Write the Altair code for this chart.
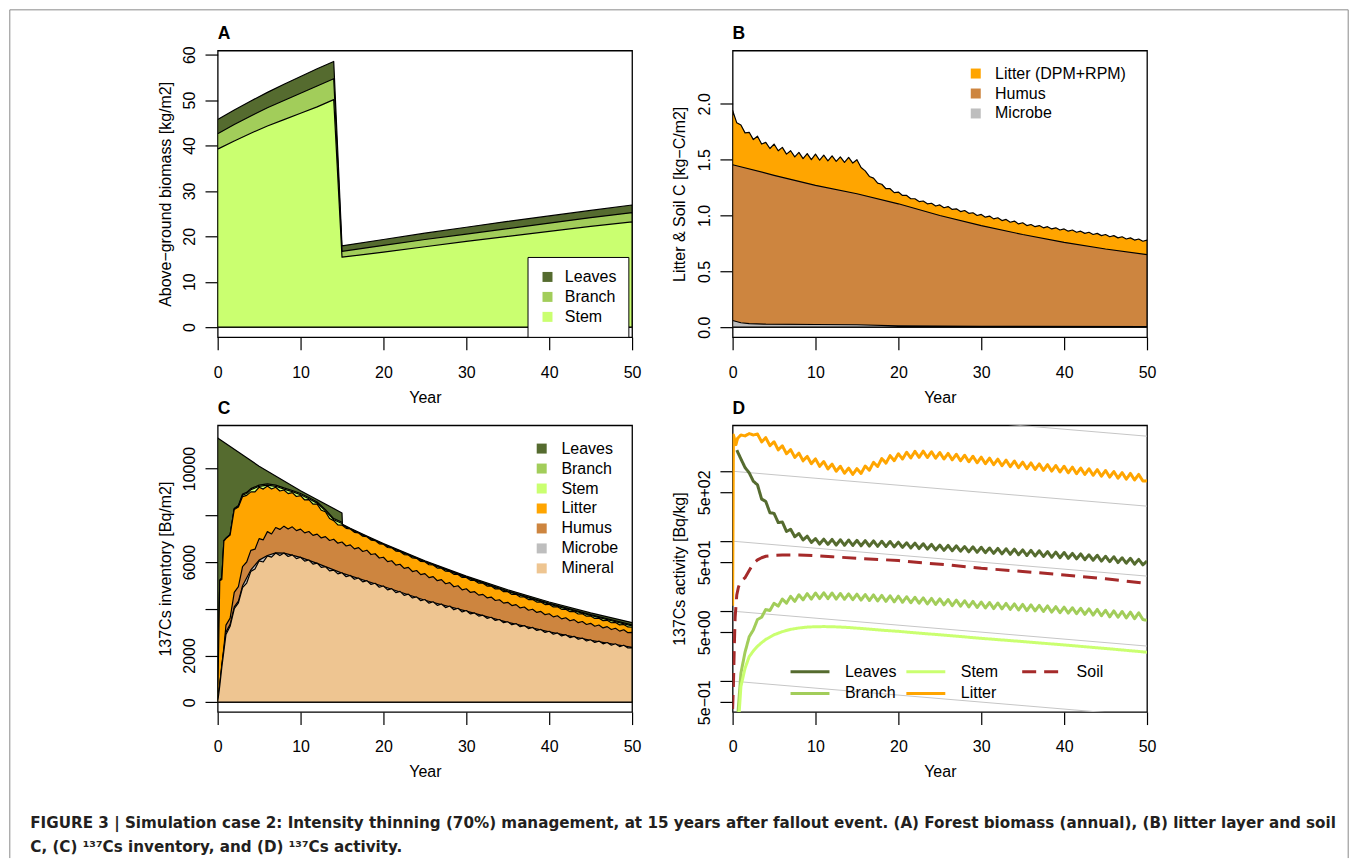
import altair as alt
import pandas as pd

FONT = "Liberation Sans"
CAP_FONT = "DejaVu Sans"
W, H = 415, 287

C_LEAVES = "#556B2F"
C_BRANCH = "#A2CD5A"
C_STEM = "#CAFF70"
C_LITTER = "#FFA500"
C_HUMUS = "#CD853F"
C_MICROBE = "#BEBEBE"
C_MINERAL = "#EEC591"
C_SOIL = "#A52A2A"
C_REF = "#c6c6c6"

x_ticks = [0, 10, 20, 30, 40, 50]

# ---------------- Panel A : above-ground biomass (stacked tops) ----------------
a_years = [0, 2, 4, 6, 8, 10, 12, 14, 15, 20, 25, 30, 35, 40, 45, 50]
a_stem_top = [39.2, 41.0, 42.7, 44.3, 45.7, 47.1, 48.5, 50.1, 15.4, 16.5, 17.7, 18.9, 20.0, 21.1, 22.2, 23.2]
a_branch_top = [42.6, 44.6, 46.5, 48.3, 49.9, 51.5, 53.1, 54.7, 16.7, 18.0, 19.3, 20.5, 21.7, 22.9, 24.1, 25.2]
a_leaves_top = [45.7, 47.8, 49.8, 51.7, 53.5, 55.2, 56.9, 58.5, 17.9, 19.3, 20.7, 22.0, 23.3, 24.5, 25.7, 26.9]
a_ticks = [0, 10, 20, 30, 40, 50, 60]

# ---------------- Panel B : litter layer and soil C ----------------
b_lit_years = [0.5 * i for i in range(101)]
b_litter_top = [
    1.94, 1.83, 1.81, 1.74, 1.745, 1.68, 1.71, 1.64, 1.655, 1.60,
    1.64, 1.58, 1.61, 1.55, 1.58, 1.525, 1.565, 1.51, 1.555, 1.50,
    1.55, 1.495, 1.54, 1.49, 1.535, 1.485, 1.525, 1.475, 1.52, 1.47,
    1.50, 1.43, 1.40, 1.35, 1.335, 1.29, 1.28, 1.24, 1.24, 1.205,
    1.21, 1.18, 1.18, 1.15, 1.15, 1.125, 1.13, 1.105, 1.11, 1.085,
    1.095, 1.07, 1.08, 1.055, 1.06, 1.035, 1.045, 1.02, 1.025, 1.0,
    1.01, 0.985, 0.995, 0.97, 0.98, 0.955, 0.965, 0.94, 0.95, 0.925,
    0.935, 0.91, 0.92, 0.90, 0.91, 0.89, 0.90, 0.88, 0.89, 0.87,
    0.88, 0.86, 0.87, 0.85, 0.86, 0.84, 0.85, 0.83, 0.84, 0.82,
    0.83, 0.81, 0.82, 0.80, 0.81, 0.79, 0.80, 0.78, 0.79, 0.77,
    0.78,
]
b_hum_years = [0, 5, 10, 15, 20, 25, 30, 35, 40, 45, 50]
b_humus_top = [1.455, 1.36, 1.27, 1.195, 1.105, 1.0, 0.91, 0.83, 0.76, 0.70, 0.65]
b_mic_years = [0, 1, 2, 4, 10, 15, 20, 30, 50]
b_microbe_top = [0.06, 0.04, 0.032, 0.027, 0.024, 0.022, 0.012, 0.008, 0.006]
b_ticks = [0, 0.5, 1.0, 1.5, 2.0]

# ---------------- Panel C : 137Cs inventory (stacked tops) ----------------
c_years = [0, 0.25, 0.5, 0.75] + [1 + 0.5 * i for i in range(99)]
c_mineral_top = [
    0, 700, 1500, 2200,
    2900, 3250, 4000, 4250, 4900, 5100, 5600, 5700, 6050, 6000,
    6260, 6210, 6385, 6275, 6385, 6235, 6305, 6145, 6205, 6035,
    6085, 5910, 5955, 5770, 5805, 5620, 5655, 5490, 5540, 5370,
    5425, 5260, 5315, 5150, 5205, 5040, 5090, 4920, 4975, 4807,
    4860, 4691, 4745, 4575, 4625, 4459, 4510, 4343, 4395, 4238,
    4300, 4144, 4205, 4050, 4115, 3956, 4020, 3862, 3925, 3778,
    3820, 3684, 3725, 3590, 3635, 3496, 3540, 3402, 3445, 3314,
    3365, 3232, 3280, 3150, 3200, 3068, 3115, 2986, 3035, 2909,
    2965, 2837, 2890, 2765, 2820, 2693, 2745, 2621, 2675, 2556,
    2615, 2497, 2555, 2438, 2500, 2379, 2440, 2320, 2335,
]
c_humus_top = [
    0, 750, 1600, 2350,
    3300, 3600, 4700, 4950, 5800, 6000, 6500, 6550, 7000, 6950,
    7300, 7200, 7475, 7395, 7535, 7410, 7505, 7345, 7405, 7245,
    7305, 7140, 7195, 7030, 7085, 6920, 6975, 6805, 6855, 6685,
    6735, 6565, 6615, 6450, 6505, 6320, 6355, 6170, 6205, 6020,
    6055, 5870, 5905, 5727, 5770, 5592, 5635, 5460, 5505, 5330,
    5375, 5200, 5245, 5070, 5115, 4940, 4985, 4810, 4855, 4697,
    4730, 4582, 4615, 4467, 4500, 4352, 4385, 4240, 4275, 4135,
    4175, 4035, 4075, 3937, 3980, 3842, 3885, 3745, 3785, 3652,
    3700, 3567, 3615, 3485, 3535, 3405, 3455, 3325, 3375, 3250,
    3305, 3180, 3235, 3110, 3165, 3042, 3100, 2977, 2990,
]
c_litter_top = [
    0, 5200, 5250, 6900,
    7000, 7150, 8250, 8350, 8800, 8850, 9000, 9000, 9200, 9120,
    9250, 9125, 9200, 9040, 9080, 8925, 8970, 8805, 8840, 8655,
    8670, 8475, 8480, 8215, 8150, 7860, 7770, 7590, 7580, 7440,
    7414, 7270, 7245, 7102, 7080, 6939, 6918, 6779, 6760, 6622,
    6604, 6468, 6453, 6318, 6304, 6171, 6158, 6025, 6013, 5882,
    5872, 5742, 5733, 5605, 5598, 5472, 5466, 5341, 5336, 5214,
    5212, 5091, 5090, 4970, 4969, 4850, 4852, 4732, 4731, 4614,
    4617, 4502, 4506, 4392, 4398, 4285, 4292, 4180, 4188, 4076,
    4085, 3974, 3984, 3874, 3885, 3776, 3788, 3680, 3693, 3586,
    3598, 3492, 3505, 3400, 3414, 3310, 3325, 3222, 3208,
]
c_mic_years = [0, 0.25, 0.5, 0.75, 1, 1.5, 2, 2.5, 3, 4, 5, 6, 7, 8, 10, 12, 15, 20, 25, 30, 35, 40, 45, 50]
c_microbe_top = [0, 740, 1560, 2290, 3000, 3330, 4080, 4330, 4980, 5660, 6080, 6280, 6390, 6380,
                 6200, 5940, 5525, 4950, 4365, 3895, 3420, 3010, 2650, 2350]
c_tree_years = [0, 0.25, 0.5, 0.75, 1, 1.5, 2, 2.5, 3, 3.5, 4, 5, 6, 7, 8, 9, 10, 11, 12, 13, 14, 15,
                15.05, 16, 18, 20, 25, 30, 35, 40, 45, 50]
c_stem_top = [0, 5210, 5310, 6910, 7010, 7165, 8280, 8390, 8860, 8930, 9090, 9240, 9290, 9240, 9120,
              9010, 8880, 8710, 8520, 8190, 7810, 7650, 7572, 7399, 7065, 6745, 6003, 5331, 4733,
              4198, 3713, 3268]
c_branch_top = [0, 5225, 5325, 6925, 7025, 7180, 8295, 8420, 8910, 8980, 9140, 9290, 9340, 9290, 9170,
                9060, 8930, 8760, 8570, 8240, 7860, 7700, 7584, 7411, 7077, 6757, 6019, 5351, 4758,
                4228, 3751, 3313]
c_leaf_years = [0, 5, 10, 15, 15.05, 16, 18, 20, 25, 30, 35, 40, 45, 50]
c_leaves_top = [11310, 10100, 9050, 8100, 7617, 7444, 7110, 6790, 6053, 5396, 4811, 4288, 3823, 3408]
c_ticks = [0, 2000, 4000, 6000, 8000, 10000]
c_tick_labels = ["0", "2000", "", "6000", "", "10000"]

# ---------------- Panel D : 137Cs activity (log) ----------------
d_half = [0.5 * i for i in range(1, 101)]
d_leaves = [
    2009, 1500, 1130, 950, 720, 640, 400, 370, 255, 250,
    185, 188, 138, 148, 116, 129, 104, 118, 96, 109,
    91, 107, 90, 106, 88, 105, 87.5, 104, 87, 103,
    86, 102, 85, 101, 84.5, 100, 84, 99, 83, 97,
    81.5, 95, 80, 94, 78.5, 92, 77, 90, 75, 88,
    74, 87, 73, 86, 72, 84, 70.5, 83, 69.5, 82,
    68.5, 80, 67, 79, 66, 78, 65, 77, 64, 75,
    62.5, 74, 61.5, 73, 60.5, 71, 59, 70, 58, 69,
    57, 67, 56, 66, 54.5, 64, 53.5, 63, 52, 61,
    51, 60, 49.5, 58, 48.5, 57, 47, 55, 46, 52,
]
d_litter_years = [0, 0.1, 0.4, 0.6] + [1 + 0.5 * i for i in range(99)]
d_litter = [
    12, 3300, 2400, 2950,
    3300, 3200, 3450, 3300, 3400, 2630, 3020, 2320, 2640, 2025,
    2310, 1780, 2035, 1580, 1815, 1410, 1630, 1280, 1500, 1175,
    1375, 1080, 1265, 1000, 1180, 935, 1110, 900, 1090, 930,
    1190, 1035, 1340, 1170, 1520, 1305, 1670, 1415, 1780, 1495,
    1870, 1550, 1925, 1580, 1935, 1570, 1900, 1535, 1850, 1495,
    1800, 1455, 1750, 1410, 1695, 1365, 1640, 1320, 1590, 1280,
    1540, 1240, 1490, 1200, 1440, 1160, 1400, 1125, 1350, 1090,
    1315, 1060, 1275, 1030, 1245, 1005, 1210, 975, 1180, 950,
    1145, 920, 1110, 900, 1085, 875, 1055, 850, 1025, 825,
    990, 795, 957, 770, 930, 750, 900, 725, 730,
]
d_branch_years = [0.6] + [1 + 0.5 * i for i in range(99)]
d_branch = [
    0.3,
    1.3, 2.6, 4.3, 5.4, 7.6, 8.2, 10.6, 10.2, 13.0, 11.8,
    14.9, 13.0, 16.3, 13.8, 17.2, 14.5, 17.8, 14.9, 18.2, 15.1,
    18.3, 15.1, 18.2, 14.9, 17.9, 14.8, 17.7, 14.6, 17.5, 14.4,
    17.3, 14.2, 17.1, 14.0, 16.8, 13.8, 16.6, 13.6, 16.4, 13.4,
    16.1, 13.2, 15.8, 13.0, 15.5, 12.7, 15.2, 12.5, 15.0, 12.3,
    14.7, 12.0, 14.4, 11.8, 14.1, 11.5, 13.8, 11.3, 13.5, 11.1,
    13.3, 10.9, 13.1, 10.8, 12.9, 10.6, 12.7, 10.4, 12.5, 10.2,
    12.3, 10.1, 12.1, 9.9, 11.9, 9.7, 11.6, 9.5, 11.4, 9.4,
    11.2, 9.2, 11.0, 9.0, 10.8, 8.8, 10.6, 8.6, 10.3, 8.3,
    10.1, 8.2, 9.9, 8.0, 9.7, 7.8, 9.5, 7.6, 7.4,
]
d_stem_years = [0.75, 1, 1.5, 2, 2.5, 3, 3.5, 4, 5, 6, 7, 8, 9, 10, 11, 12, 14, 16, 18, 20, 23, 26, 30, 35, 40, 45, 50]
d_stem = [0.3, 0.84, 1.53, 2.24, 2.7, 3.15, 3.55, 3.95, 4.6, 5.1, 5.5, 5.75, 5.92, 6.0, 6.02, 6.0, 5.85,
          5.6, 5.35, 5.15, 4.8, 4.5, 4.09, 3.68, 3.29, 2.93, 2.59]
d_soil_years = [0, 0.1, 0.2, 0.3, 0.5, 0.7, 1, 1.5, 2, 2.5, 3, 3.5, 4, 5, 6, 8, 10, 12, 15, 18, 20, 23, 26,
                30, 35, 40, 45, 50]
d_soil = [0.4, 0.9, 3, 8, 17, 22, 27, 30, 38, 48, 54, 58, 61, 63, 63.5, 63.5, 62, 60, 57, 54.5, 53, 49,
          46, 41, 37, 33, 29, 25]
d_ref_years = [0, 50]
d_ref_start = [10000, 1000, 100, 10, 1]
d_ref_end = [3170, 317, 31.7, 3.17, 0.317]
d_ticks = [0.5, 1, 5, 10, 50, 100, 500, 1000]
d_tick_labels = ["5e\u221201", "", "5e+00", "", "5e+01", "", "5e+02", ""]

caption_lines = [
    "FIGURE 3 | Simulation case 2: Intensity thinning (70%) management, at 15 years after fallout event. "
    "(A) Forest biomass (annual), (B) litter layer and soil",
    "C, (C) \u00b9\u00b3\u2077Cs inventory, and (D) \u00b9\u00b3\u2077Cs activity.",
]

# ---------------- helpers ----------------
xscale = alt.Scale(domain=[0, 50], nice=False, zero=False)


def label_expr(vals, labels):
    parts = " : ".join(f"datum.value == {v} ? '{l}'" for v, l in zip(vals, labels))
    return parts + " : ''"


def xax():
    return alt.Axis(values=x_ticks, format="d", title="Year", labelPadding=27.3,
                    labelBaseline="alphabetic", titleX=W / 2, titleY=65, titleAlign="center",
                    titleBaseline="alphabetic", titleAngle=0)


def yax(title, values, fmt, expr=None):
    kw = dict(values=values, format=fmt, title=title, labelAngle=270, labelAlign="center",
              labelBaseline="alphabetic", labelPadding=10.7, titleAngle=270, titleX=-47.7,
              titleY=H / 2, titleAlign="center", titleBaseline="alphabetic")
    if expr:
        kw["labelExpr"] = expr
    return alt.Axis(**kw)


def ptitle(letter, offset):
    return alt.TitleParams(text=letter, anchor="start", frame="group", font=FONT, fontSize=17.5,
                           fontWeight="bold", color="black", offset=offset, baseline="alphabetic",
                           dy=17)


def stacked(field, series, domain, colors, ydom, yaxis, legend):
    layers = []
    for name, ts, vs in series:
        df = pd.DataFrame({"year": ts, "value": vs, field: name})
        layers.append(
            alt.Chart(df).mark_area(stroke="black", strokeWidth=1.2, clip=True, opacity=1,
                                    strokeJoin="round")
            .encode(
                x=alt.X("year:Q", scale=xscale, axis=xax()),
                y=alt.Y("value:Q", scale=alt.Scale(domain=ydom, nice=False, zero=False), axis=yaxis),
                y2=alt.datum(0),
                color=alt.Color(f"{field}:N", scale=alt.Scale(domain=domain, range=colors), legend=legend),
            )
        )
    return alt.layer(*layers)


def sq_legend(x, y, offset, boxed=False):
    kw = dict(orient="none", legendX=x, legendY=y, symbolType="square", symbolSize=100,
              symbolStrokeWidth=0, symbolOpacity=1, labelOffset=offset, rowPadding=4,
              labelFont=FONT, labelFontSize=16, labelColor="black", title=None)
    if boxed:
        kw.update(fillColor="white", strokeColor="black", padding=12)
    else:
        kw.update(padding=0)
    return alt.Legend(**kw)


# ---------------- Panel A ----------------
A = stacked(
    "partA",
    [("Leaves", a_years, a_leaves_top), ("Branch", a_years, a_branch_top), ("Stem", a_years, a_stem_top)],
    ["Leaves", "Branch", "Stem"], [C_LEAVES, C_BRANCH, C_STEM], [-2.2, 60.9],
    yax("Above\u2212ground biomass [kg/m2]", a_ticks, "d"),
    sq_legend(310.3, 206.7, 9.4, boxed=True),
).properties(width=W, height=H, title=ptitle("A", 6.2))

# ---------------- Panel B ----------------
B = stacked(
    "poolB",
    [("Litter (DPM+RPM)", b_lit_years, b_litter_top), ("Humus", b_hum_years, b_humus_top),
     ("Microbe", b_mic_years, b_microbe_top)],
    ["Litter (DPM+RPM)", "Humus", "Microbe"], [C_LITTER, C_HUMUS, C_MICROBE], [-0.089, 2.477],
    yax("Litter & Soil C [kg\u2212C/m2]", b_ticks, ".1f"),
    sq_legend(235.5, 15, 11.3),
).properties(width=W, height=H, title=ptitle("B", 11))

# ---------------- Panel C ----------------
C = stacked(
    "poolC",
    [("Leaves", c_leaf_years, c_leaves_top), ("Branch", c_tree_years, c_branch_top),
     ("Stem", c_tree_years, c_stem_top), ("Litter", c_years, c_litter_top),
     ("Humus", c_years, c_humus_top), ("Microbe", c_mic_years, c_microbe_top),
     ("Mineral", c_years, c_mineral_top)],
    ["Leaves", "Branch", "Stem", "Litter", "Humus", "Microbe", "Mineral"],
    [C_LEAVES, C_BRANCH, C_STEM, C_LITTER, C_HUMUS, C_MICROBE, C_MINERAL], [-414, 11850],
    yax("137Cs inventory [Bq/m2]", c_ticks, "d", label_expr(c_ticks, c_tick_labels)),
    sq_legend(316.5, 15.3, 11.7),
).properties(width=W, height=H, title=ptitle("C", 10.5))

# ---------------- Panel D ----------------
d_rows = []
for name, ts, vs in [("Leaves", d_half, d_leaves), ("Branch", d_branch_years, d_branch),
                     ("Stem", d_stem_years, d_stem), ("Litter", d_litter_years, d_litter),
                     ("Soil", d_soil_years, d_soil)]:
    d_rows += [{"year": t, "value": v, "seriesD": name} for t, v in zip(ts, vs)]
d_df = pd.DataFrame(d_rows)
ref_rows = []
for i, (s, e) in enumerate(zip(d_ref_start, d_ref_end)):
    ref_rows += [{"year": d_ref_years[0], "value": s, "id": i}, {"year": d_ref_years[1], "value": e, "id": i}]
ref_df = pd.DataFrame(ref_rows)

# legend is filled column by column: (Leaves, Branch) (Stem, Litter) (Soil)
d_domain = ["Leaves", "Branch", "Stem", "Litter", "Soil"]
d_colors = [C_LEAVES, C_BRANCH, C_STEM, C_LITTER, C_SOIL]
d_dash = [[1, 0], [1, 0], [1, 0], [1, 0], [14, 8]]
d_yscale = alt.Scale(type="log", domain=[0.3636, 4535], nice=False)
d_yaxis = yax("137Cs activity [Bq/kg]", d_ticks, "", label_expr(d_ticks, d_tick_labels))


def d_legend():
    # a wide horizontal line symbol (path spans 2x the nominal symbol width)
    return alt.Legend(orient="none", legendX=66, legendY=235, columns=3, symbolType="M-2,0H2",
                      symbolSize=380, symbolStrokeWidth=3, labelOffset=23.5, columnPadding=3,
                      rowPadding=2, gridAlign="all", padding=0, labelFont=FONT, labelFontSize=16,
                      labelColor="black", title=None)


d_ref = alt.Chart(ref_df).mark_line(color=C_REF, strokeWidth=1, clip=True).encode(
    x=alt.X("year:Q", scale=xscale, axis=xax()),
    y=alt.Y("value:Q", scale=d_yscale, axis=d_yaxis),
    detail="id:N",
)
d_lines = alt.Chart(d_df).mark_line(strokeWidth=3, clip=True, strokeJoin="round", strokeCap="butt").encode(
    x=alt.X("year:Q", scale=xscale, axis=xax()),
    y=alt.Y("value:Q", scale=d_yscale, axis=d_yaxis),
    color=alt.Color("seriesD:N", scale=alt.Scale(domain=d_domain, range=d_colors), legend=d_legend()),
    strokeDash=alt.StrokeDash("seriesD:N", scale=alt.Scale(domain=d_domain, range=d_dash), legend=d_legend()),
)
D = alt.layer(d_ref, d_lines).properties(width=W, height=H, title=ptitle("D", 10.5))

# ---------------- caption + figure frame ----------------
one = pd.DataFrame({"k": [0]})
FRAME = "#8a8a8a"
FX0, FX1, FY0, FY1 = -208.2, 1132.2, -791.4, 58.1
frame_l = alt.Chart(one).mark_rule(color=FRAME, strokeWidth=1).encode(
    x=alt.value(FX0), y=alt.value(FY0), y2=alt.value(FY1))
frame_t = alt.Chart(one).mark_rule(color=FRAME, strokeWidth=1).encode(
    x=alt.value(FX0), x2=alt.value(FX1), y=alt.value(FY0))
frame_r = alt.Chart(one).mark_rule(color=FRAME, strokeWidth=1).encode(
    x=alt.value(FX1), y=alt.value(FY0), y2=alt.value(FY1))
cap_layers = []
for line, yy in zip(caption_lines, [28.4, 51.8]):
    cap_layers.append(
        alt.Chart(pd.DataFrame({"txt": [line]})).mark_text(
            align="left", baseline="alphabetic", font=CAP_FONT, fontSize=15.2, fontWeight="bold",
            color="#231f20").encode(text="txt:N", x=alt.value(-187.7), y=alt.value(yy))
    )
E = alt.layer(frame_l, frame_t, frame_r, *cap_layers).properties(
    width=W, height=50, view=alt.ViewBackground(stroke="transparent"))

chart = (
    alt.concat(A, B, C, D, E, columns=2, spacing={"row": 88.3, "column": 100.7}, bounds="flush")
    .resolve_scale(color="independent", strokeDash="independent")
    .resolve_legend(color="independent", strokeDash="independent")
    .properties(padding=0)
    .configure_view(stroke="black", strokeWidth=1.3)
    .configure_axis(domain=False, grid=False, ticks=True, tickSize=12.7, tickWidth=1.2,
                    tickColor="black", labelFont=FONT, labelFontSize=16, labelColor="black",
                    titleFont=FONT, titleFontSize=16, titleFontWeight="normal", titleColor="black",
                    labelFlush=False, labelOverlap=False)
    .configure_legend(labelFont=FONT, labelFontSize=16, labelColor="black")
    .configure_title(font=FONT)
)

chart.save("out.html", embed_options={"renderer": "svg", "actions": False})
